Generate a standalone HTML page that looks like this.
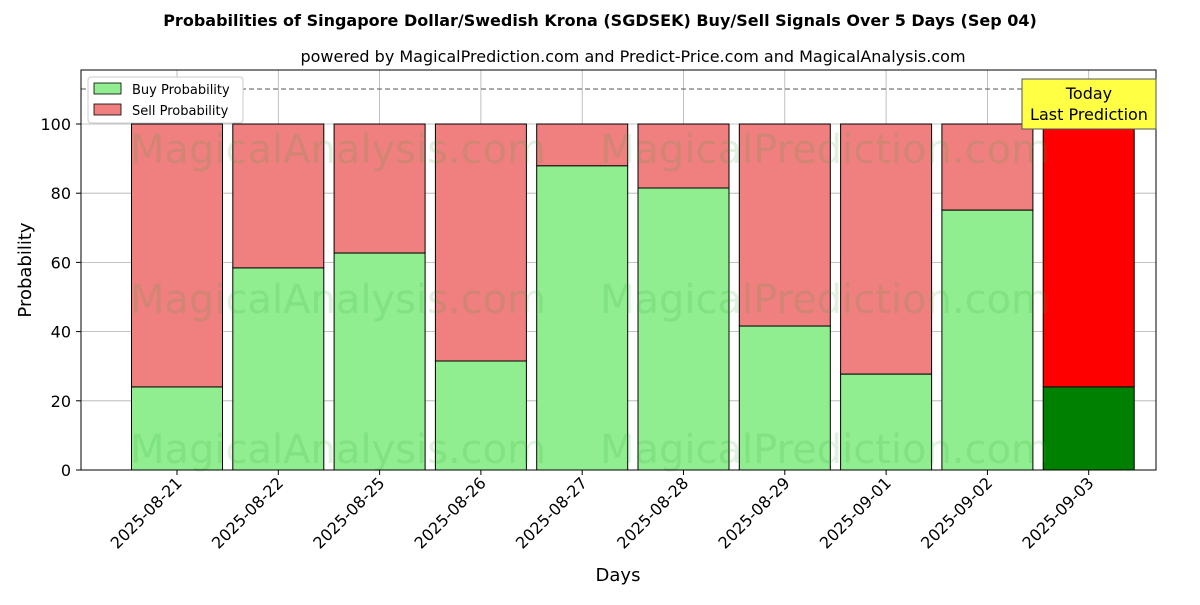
<!DOCTYPE html>
<html><head><meta charset="utf-8"><style>
body{margin:0;background:#fff;font-family:"Liberation Sans","DejaVu Sans",sans-serif;}
svg text{font-family:"DejaVu Sans","Liberation Sans",sans-serif;}
</style></head><body>
<svg id="chart" width="1200" height="600" xmlns="http://www.w3.org/2000/svg">
<rect width="1200" height="600" fill="#fff"/>
<text x="600" y="26" text-anchor="middle" font-size="16" font-weight="bold">Probabilities of Singapore Dollar/Swedish Krona (SGDSEK) Buy/Sell Signals Over 5 Days (Sep 04)</text>
<text x="633" y="62" text-anchor="middle" font-size="16">powered by MagicalPrediction.com and Predict-Price.com and MagicalAnalysis.com</text>
<g id="grid"></g>
<g id="bars"></g>
<g id="wm" font-size="40" fill="#2ca02c" fill-opacity="0.15">
<text x="130" y="163">MagicalAnalysis.com</text>
<text x="600" y="163">MagicalPrediction.com</text>
<text x="130" y="313">MagicalAnalysis.com</text>
<text x="600" y="313">MagicalPrediction.com</text>
<text x="130" y="463">MagicalAnalysis.com</text>
<text x="600" y="463">MagicalPrediction.com</text>
</g>
<line x1="81" x2="1156" y1="89" y2="89" stroke="#777" stroke-dasharray="5,3" stroke-width="1.2"/>
<rect x="81" y="70" width="1075" height="400" fill="none" stroke="#000" stroke-width="1"/>
<g id="axes"></g>
<text transform="translate(31,270) rotate(-90)" text-anchor="middle" font-size="18">Probability</text>
<text x="618" y="581" text-anchor="middle" font-size="18">Days</text>
<g>
<rect x="88" y="77" width="155" height="46" fill="#fff" stroke="#ccc" rx="3"/>
<rect x="94" y="83" width="27" height="11" fill="#90ee90" stroke="#000" stroke-width="0.8"/>
<text x="132" y="94" font-size="13">Buy Probability</text>
<rect x="94" y="104" width="27" height="11" fill="#f08080" stroke="#000" stroke-width="0.8"/>
<text x="132" y="115" font-size="13">Sell Probability</text>
</g>
<g>
<rect x="1022" y="79" width="134" height="50" fill="#ffff44" stroke="#555"/>
<text x="1089" y="99" text-anchor="middle" font-size="16">Today</text>
<text x="1089" y="120" text-anchor="middle" font-size="16">Last Prediction</text>
</g>
</svg>
<script>
const categories=["2025-08-21","2025-08-22","2025-08-25","2025-08-26","2025-08-27","2025-08-28","2025-08-29","2025-09-01","2025-09-02","2025-09-03"];
const buyValues=[24.0,58.4,62.7,31.5,87.9,81.5,41.6,27.7,75.1,24.0];
const yTicks=[0,20,40,60,80,100];
const NS="http://www.w3.org/2000/svg";
const y=v=>470-v*3.46;
const x=i=>177+i*101.3;
const bw=91;
function mk(t,a,p){const e=document.createElementNS(NS,t);for(const k in a)e.setAttribute(k,a[k]);p.appendChild(e);return e;}
const grid=document.getElementById('grid'),bars=document.getElementById('bars'),axes=document.getElementById('axes');
yTicks.forEach(v=>{
 const l=mk('line',{x1:81,x2:1156,y1:y(v),y2:y(v),stroke:'#b0b0b0','stroke-width':0.8},grid);
 
 
 mk('line',{x1:76,x2:81,y1:y(v),y2:y(v),stroke:'#000'},axes);
 const t=mk('text',{x:71,y:y(v)+6,'text-anchor':'end','font-size':16},axes);t.textContent=v;
 
 
});
categories.forEach((c,i)=>{
 const cx=x(i),last=i===categories.length-1;
 const g=mk('line',{x1:cx,x2:cx,y1:70,y2:470,stroke:'#b0b0b0','stroke-width':0.8},grid);
 
 
 const b=buyValues[i];
 const s=mk('rect',{x:cx-bw/2,y:y(100),width:bw,height:y(b)-y(100),fill:last?'#ff0000':'#f08080',stroke:'#000','stroke-width':1},bars);
 
 
 const r=mk('rect',{x:cx-bw/2,y:y(b),width:bw,height:470-y(b),fill:last?'#008000':'#90ee90',stroke:'#000','stroke-width':1},bars);
 
 
 mk('line',{x1:cx,x2:cx,y1:470,y2:475,stroke:'#000'},axes);
 const t=mk('text',{x:cx+6,y:484,'text-anchor':'end','font-size':16,transform:`rotate(-45 ${cx+6} 484)`},axes);t.textContent=c;
 
 
});
</script>
</body></html>
